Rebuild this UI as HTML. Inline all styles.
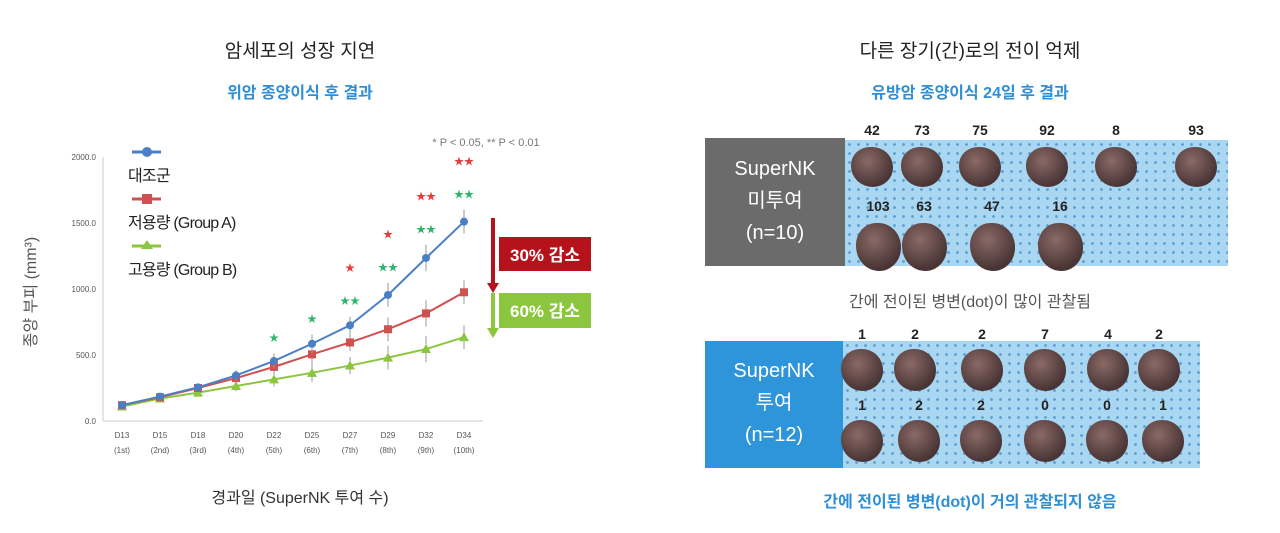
<!DOCTYPE html>
<html><head><meta charset="utf-8"><style>
body{margin:0;width:1280px;height:533px;background:#fff;font-family:"Liberation Sans","Noto Sans CJK KR",sans-serif;position:relative;overflow:hidden}
.a{position:absolute;white-space:nowrap}
.photo{position:absolute;background-color:#a9d6f0;background-image:radial-gradient(#5b9fd6 1.2px,transparent 1.6px);background-size:9px 9px}
.num{position:absolute;font-weight:bold;font-size:14px;color:#222;transform:translateX(-50%)}
.liver{position:absolute;border-radius:45% 50% 48% 52%;background:radial-gradient(circle at 40% 35%,#8a6a66,#4a3536 70%)}
</style></head><body>
<div class="a" style="left:0;width:600px;text-align:center;top:36px;font-size:19px;color:#222">암세포의 성장 지연</div>
<div class="a" style="left:0;width:600px;text-align:center;top:79px;font-size:16px;font-weight:bold;color:#2e8fd6">위암 종양이식 후 결과</div>
<div class="a" style="left:670px;width:600px;text-align:center;top:36px;font-size:19px;color:#222">다른 장기(간)로의 전이 억제</div>
<div class="a" style="left:670px;width:600px;text-align:center;top:79px;font-size:16px;font-weight:bold;color:#2e8fd6">유방암 종양이식 24일 후 결과</div>

<svg id="chart" width="640" height="533" style="position:absolute;left:0;top:0"></svg>

<div class="a" style="left:705px;top:138px;width:140px;height:128px;background:#6b6b6b;color:#fff;font-size:20px;text-align:center;line-height:32px;padding-top:15px;box-sizing:border-box">SuperNK<br>미투여<br>(n=10)</div>
<div class="photo" style="left:845px;top:140px;width:383px;height:126px"></div>
<div class="a" style="left:670px;width:600px;text-align:center;top:288px;font-size:16px;color:#555">간에 전이된 병변(dot)이 많이 관찰됨</div>
<div class="a" style="left:705px;top:341px;width:138px;height:127px;background:#2e95da;color:#fff;font-size:20px;text-align:center;line-height:32px;padding-top:14px;box-sizing:border-box">SuperNK<br>투여<br>(n=12)</div>
<div class="photo" style="left:843px;top:341px;width:357px;height:127px"></div>
<div class="a" style="left:670px;width:600px;text-align:center;top:488px;font-size:16px;font-weight:bold;color:#2e8fd6">간에 전이된 병변(dot)이 거의 관찰되지 않음</div>
<div id="livers"></div>

<script>
const days=["D13","D15","D18","D20","D22","D25","D27","D29","D32","D34"];
const doses=["(1st)","(2nd)","(3rd)","(4th)","(5th)","(6th)","(7th)","(8th)","(9th)","(10th)"];
const control=[120,185,255,345,455,585,725,955,1235,1510];
const groupA=[120,180,250,325,410,505,595,695,815,975];
const groupB=[110,170,215,265,315,365,420,480,545,635];
const errs=[15,15,20,40,55,70,65,90,100,90];
const yTicks=[0,500,1000,1500,2000];
const redStars=["","","","","","","★","★","★★","★★"];
const greenStars=["","","","","★","★","★★","★★","★★","★★"];
const NS="http://www.w3.org/2000/svg";
const svg=document.getElementById('chart');
const X=i=>122+i*38, Y=v=>421-v*(264/2000);
function el(t,a,name){const e=document.createElementNS(NS,t);for(const k in a)e.setAttribute(k,a[k]);


svg.appendChild(e);return e;}
el('line',{x1:103,y1:Y(0),x2:483,y2:Y(0),stroke:'#ccc'},'x-axis');
el('line',{x1:103,y1:Y(0),x2:103,y2:Y(2000),stroke:'#ccc'},'y-axis');
yTicks.forEach(v=>{const t=el('text',{x:96,y:Y(v)+3,'font-size':8,'text-anchor':'end',fill:'#555'},'y-tick-label');t.textContent=v.toFixed(1);});
days.forEach((d,i)=>{let t=el('text',{x:X(i),y:438,'font-size':8,'text-anchor':'middle',fill:'#555'},'x-tick-label');t.textContent=d;
t=el('text',{x:X(i),y:453,'font-size':8,'text-anchor':'middle',fill:'#555'},'x-tick-sublabel');t.textContent=doses[i];});
function series(data,color,shape,name){
 data.forEach((v,i)=>{el('line',{x1:X(i),x2:X(i),y1:Y(v-errs[i]),y2:Y(v+errs[i]),stroke:'#999'},name+'-error');});
 el('polyline',{points:data.map((v,i)=>X(i)+','+Y(v)).join(' '),fill:'none',stroke:color,'stroke-width':2},name+'-line');
 data.forEach((v,i)=>{const x=X(i),y=Y(v);
  if(shape==='c')el('circle',{cx:x,cy:y,r:4,fill:color},name+'-point');
  else if(shape==='s')el('rect',{x:x-4,y:y-4,width:8,height:8,fill:color},name+'-point');
  else el('polygon',{points:`${x},${y-5} ${x-5},${y+4} ${x+5},${y+4}`,fill:color},name+'-point');});
}
series(groupB,'#8cc63f','t','group-b');
series(groupA,'#d0504f','s','group-a');
series(control,'#4a7fc8','c','control');
days.forEach((d,i)=>{const top=Y(control[i]+errs[i]);
 if(greenStars[i]){const t=el('text',{x:X(i),y:top-12,'font-size':10,'text-anchor':'middle',fill:'#2fb56b'},'green-significance');t.textContent=greenStars[i];}
 if(redStars[i]){const t=el('text',{x:X(i),y:top-45,'font-size':10,'text-anchor':'middle',fill:'#e83a3a'},'red-significance');t.textContent=redStars[i];}
});
const p=el('text',{x:486,y:146,'font-size':11,'text-anchor':'middle',fill:'#777'},'p-value-note');p.textContent='* P < 0.05, ** P < 0.01';
const leg=[['대조군','#4a7fc8','c'],['저용량 (Group A)','#d0504f','s'],['고용량 (Group B)','#8cc63f','t']];
leg.forEach((l,i)=>{const y=152+i*47;
 el('line',{x1:132,x2:161,y1:y,y2:y,stroke:l[1],'stroke-width':3},'legend-line');
 if(l[2]==='c')el('circle',{cx:147,cy:y,r:5,fill:l[1]},'legend-marker');
 else if(l[2]==='s')el('rect',{x:142,y:y-5,width:10,height:10,fill:l[1]},'legend-marker');
 else el('polygon',{points:`147,${y-6} 141,${y+3} 153,${y+3}`,fill:l[1]},'legend-marker');
 const t=el('text',{x:128,y:y+29,'font-size':16,fill:'#222','letter-spacing':'-0.8'},'legend-label');t.textContent=l[0];});
el('line',{x1:493,x2:493,y1:218,y2:285,stroke:'#b5121b','stroke-width':4},'red-arrow');
el('polygon',{points:'487,283 499,283 493,293',fill:'#b5121b'},'red-arrowhead');
el('line',{x1:493,x2:493,y1:293,y2:330,stroke:'#8cc63f','stroke-width':4},'green-arrow');
el('polygon',{points:'487,328 499,328 493,338',fill:'#8cc63f'},'green-arrowhead');
el('rect',{x:499,y:237,width:92,height:34,fill:'#b5121b'},'reduction-30-badge');
let t=el('text',{x:545,y:261,'font-size':17,'font-weight':'bold','text-anchor':'middle',fill:'#fff'},'reduction-30-text');t.textContent='30% 감소';
el('rect',{x:499,y:293,width:92,height:35,fill:'#8cc63f'},'reduction-60-badge');
t=el('text',{x:545,y:317,'font-size':17,'font-weight':'bold','text-anchor':'middle',fill:'#fff'},'reduction-60-text');t.textContent='60% 감소';
t=el('text',{x:300,y:503,'font-size':16,'text-anchor':'middle',fill:'#333'},'x-axis-title');t.textContent='경과일 (SuperNK 투여 수)';
t=el('text',{x:0,y:0,'font-size':16,'text-anchor':'middle',fill:'#555',transform:'translate(36,292) rotate(-90)'},'y-axis-title');t.textContent='종양 부피 (mm³)';

const lv=document.getElementById('livers');
const topNums=[["42",872],["73",922],["75",980],["92",1047],["8",1116],["93",1196],["103",878],["63",924],["47",992],["16",1060]];
const topY=[130,130,130,130,130,130,206,206,206,206];
const botNums=[["1",862],["2",915],["2",982],["7",1045],["4",1108],["2",1159],["1",862],["2",919],["2",981],["0",1045],["0",1107],["1",1163]];
const botY=[334,334,334,334,334,334,405,405,405,405,405,405];
function liver(x,y,w,h,name){const d=document.createElement('div');d.className='liver';d.style.cssText=`left:${x-w/2}px;top:${y}px;width:${w}px;height:${h}px`;


lv.appendChild(d);}
function num(s,x,y){const d=document.createElement('div');d.className='num';d.textContent=s;d.style.left=x+'px';d.style.top=(y-8)+'px';


lv.appendChild(d);}
topNums.forEach((n,i)=>{num(n[0],n[1],topY[i]);liver(n[1],topY[i]+17,i<6?42:45,i<6?40:48,'untreated-liver');});
botNums.forEach((n,i)=>{num(n[0],n[1],botY[i]);liver(n[1],botY[i]+15,42,42,'treated-liver');});
</script>
</body></html>
